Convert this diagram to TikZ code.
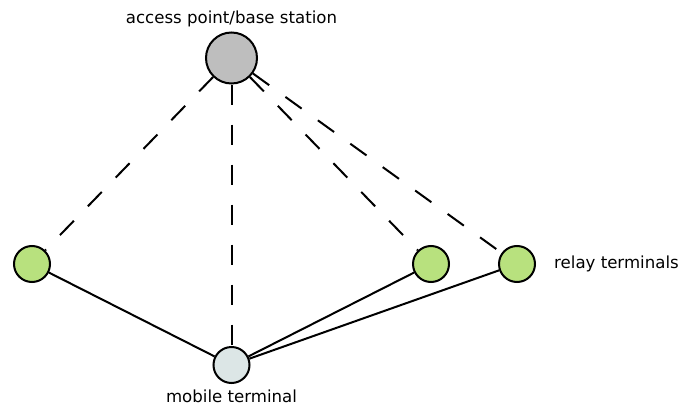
\documentclass[tikz,border=0pt]{standalone}
\usepackage{fontspec}
\setmainfont{DejaVu Sans}
\usetikzlibrary{positioning}
\definecolor{apgray}{HTML}{BEBEBE}
\definecolor{relaygreen}{HTML}{B8E17E}
\definecolor{mobilegray}{HTML}{DCE6E6}

\begin{document}
\begin{tikzpicture}[x=1pt, y=-1pt, font=\fontsize{16.6}{20}\selectfont,
    stn/.style={draw, circle, line width=2pt, inner sep=0pt},
    lbl/.style={inner sep=0pt},
    radio/.style={line width=2pt, dash pattern=on 20pt off 20pt},
    wire/.style={line width=2pt}]
    \useasboundingbox (0,0) rectangle (686,415);
    \node[stn, fill=apgray, minimum size=51pt] (ap) at (231.5,58) {};
    \node[stn, fill=relaygreen, minimum size=36pt] (r1) at (32,264) {};
    \node[stn, fill=relaygreen, minimum size=36pt] (r2) at (431,264) {};
    \node[stn, fill=relaygreen, minimum size=36pt] (r3) at (517,264) {};
    \node[stn, fill=mobilegray, minimum size=36pt] (mt) at (231.5,365) {};
    \node[lbl, above=4pt of ap] (aplbl) {access point/base station};
    \node[lbl, right=18pt of r3] (rlbl) {relay terminals};
    \node[lbl, below=6pt of mt] (mtlbl) {mobile terminal};
    \draw[radio] (ap) -- (r1);
    \draw[radio] (ap) -- (mt);
    \draw[radio] (ap) -- (r2);
    \draw[radio] (ap) -- (r3);
    \draw[wire] (r1) -- (mt);
    \draw[wire] (r2) -- (mt);
    \draw[wire] (r3) -- (mt);
\end{tikzpicture}
\end{document}
